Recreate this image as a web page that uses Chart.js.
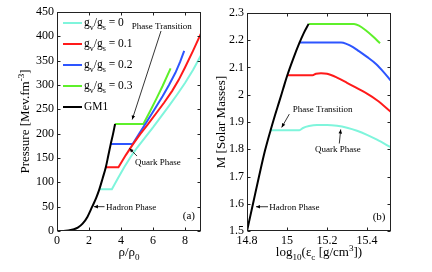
<!DOCTYPE html>
<html>
<head>
<meta charset="utf-8">
<script src="https://cdn.jsdelivr.net/npm/chart.js@4.4.1/dist/chart.umd.min.js"></script>
<style>
  html, body { margin: 0; padding: 0; background: #fff; }
  #wrap { position: relative; width: 432px; height: 272px; overflow: hidden; }
  canvas { position: absolute; top: 0; }
  #chartA { left: 0; }
  #chartB { left: 208px; }
</style>
</head>
<body>
<div id="wrap">
  <canvas id="chartA" width="216" height="272"></canvas>
  <canvas id="chartB" width="224" height="272"></canvas>
</div>
<script>
// panel (a): pressure vs rho/rho0
const rhoGM1  = [0, 0.4, 0.7, 1.0, 1.3, 1.6, 1.9, 2.2, 2.45, 2.65, 2.85, 3.05, 3.2, 3.36, 3.5, 3.63];
const presGM1 = [0, 0, 0.8, 3, 7, 15, 29, 50, 68, 86, 108, 131, 154, 179, 199, 220];
const rhoG0   = [2.65, 3.43, 3.8, 4.2, 4.6, 5.0, 5.5, 6.0, 6.5, 7.0, 7.5, 8.0, 8.5, 9.0];
const presG0  = [86, 86, 108, 131, 152, 171, 192, 213, 235, 257, 280, 304, 331, 361];
const rhoG1   = [3.05, 3.84, 4.3, 4.74, 5.2, 5.7, 6.2, 6.7, 7.2, 7.6, 8.0, 8.5, 9.0];
const presG1  = [131, 131, 156, 178, 199, 220, 242, 264, 288, 310, 336, 370, 406];
const rhoG2   = [3.36, 4.74, 5.15, 5.6, 6.1, 6.6, 7.0, 7.4, 7.7, 7.95];
const presG2  = [179, 179, 201, 224, 250, 277, 300, 325, 348, 370];
const rhoG3   = [3.63, 5.4, 5.8, 6.2, 6.6, 7.1];
const presG3  = [220, 220, 245, 271, 298, 334];
const rhoTicks  = [0, 2, 4, 6, 8];
const presTicks = [0, 50, 100, 150, 200, 250, 300, 350, 400, 450];

// panel (b): mass vs log10 of central density
const epsGM1  = [14.8, 14.83, 14.86, 14.89, 14.918, 14.94, 14.96, 14.98, 15.0, 15.03, 15.062, 15.085, 15.108];
const massGM1 = [1.5, 1.6, 1.7, 1.795, 1.87, 1.925, 1.972, 2.02, 2.068, 2.13, 2.19, 2.228, 2.26];
const epsG0   = [14.918, 15.062, 15.08, 15.11, 15.15, 15.2, 15.25, 15.3, 15.35, 15.4, 15.45, 15.52];
const massG0  = [1.870, 1.870, 1.878, 1.885, 1.889, 1.889, 1.886, 1.879, 1.868, 1.853, 1.835, 1.807];
const epsG1   = [15.0, 15.128, 15.145, 15.17, 15.2, 15.25, 15.3, 15.35, 15.4, 15.45, 15.52];
const massG1  = [2.072, 2.072, 2.077, 2.079, 2.077, 2.063, 2.044, 2.024, 2.004, 1.98, 1.937];
const epsG2   = [15.062, 15.27, 15.3, 15.33, 15.36, 15.4, 15.445, 15.48, 15.52];
const massG2  = [2.192, 2.192, 2.186, 2.175, 2.16, 2.139, 2.113, 2.086, 2.051];
const epsG3   = [15.108, 15.335, 15.36, 15.395, 15.43, 15.465];
const massG3  = [2.26, 2.26, 2.254, 2.236, 2.214, 2.189];
const epsTicks  = [14.8, 15, 15.2, 15.4];
const massTicks = [1.5, 1.6, 1.7, 1.8, 1.9, 2.0, 2.1, 2.2, 2.3];

const colGM1 = '#000000';
const colG0 = '#7ff5dc';
const colG1 = '#ff1a1a';
const colG2 = '#2d55ff';
const colG3 = '#5ef02a';

const serif = "'Liberation Serif', 'Times New Roman', serif";

const pts = (xs, ys) => xs.map((v, i) => ({ x: v, y: ys[i] }));

const line = (xs, ys, color, smooth) => ({
    data: pts(xs, ys),
    showLine: true,
    borderColor: color,
    backgroundColor: color,
    borderWidth: 2,
    pointRadius: 0,
    fill: false,
    cubicInterpolationMode: smooth ? 'monotone' : 'default',
    tension: 0
});

// text with sub/superscripts, y is the baseline
const drawRich = (ctx, parts, x, y, size, align) => {
    let w = 0;
    parts.forEach(p => {
        ctx.font = (p[1] ? size * 0.7 : size) + 'px ' + serif;
        w += ctx.measureText(p[0]).width;
    });
    let cx = align === 'center' ? x - w / 2 : x;
    ctx.textAlign = 'left';
    ctx.textBaseline = 'alphabetic';
    parts.forEach(p => {
        const sz = p[1] ? size * 0.7 : size;
        ctx.font = sz + 'px ' + serif;
        const dy = p[1] === 'sub' ? size * 0.32 : (p[1] === 'sup' ? -size * 0.42 : 0);
        ctx.fillText(p[0], cx, y + dy);
        cx += ctx.measureText(p[0]).width;
    });
};

const arrow = (ctx, x1, y1, x2, y2) => {
    ctx.beginPath();
    ctx.moveTo(x1, y1);
    ctx.lineTo(x2, y2);
    ctx.stroke();
    const a = Math.atan2(y2 - y1, x2 - x1);
    const L = 4, W = 1.8;
    ctx.beginPath();
    ctx.moveTo(x2, y2);
    ctx.lineTo(x2 - L * Math.cos(a) + W * Math.sin(a), y2 - L * Math.sin(a) - W * Math.cos(a));
    ctx.lineTo(x2 - L * Math.cos(a) - W * Math.sin(a), y2 - L * Math.sin(a) + W * Math.cos(a));
    ctx.closePath();
    ctx.fill();
};

// box, inward ticks, titles, notes and legend
const framePlugin = (cfg) => ({
    id: 'frame',
    afterDraw(chart) {
        const { ctx, chartArea: a, scales: { x, y } } = chart;
        ctx.save();
        ctx.strokeStyle = '#222';
        ctx.fillStyle = '#000';
        ctx.lineWidth = 1;
        const L = Math.round(a.left) + 0.5, R = Math.round(a.right) - 0.5;
        const T = Math.round(a.top) + 0.5, B = Math.round(a.bottom) - 0.5;
        ctx.strokeRect(L, T, R - L, B - T);
        ctx.beginPath();
        x.ticks.forEach(t => {
            const px = Math.round(x.getPixelForValue(t.value)) + 0.5;
            ctx.moveTo(px, B); ctx.lineTo(px, B - 3);
            ctx.moveTo(px, T); ctx.lineTo(px, T + 3);
        });
        y.ticks.forEach(t => {
            const py = Math.round(y.getPixelForValue(t.value)) + 0.5;
            ctx.moveTo(L, py); ctx.lineTo(L + 3, py);
            ctx.moveTo(R, py); ctx.lineTo(R - 3, py);
        });
        ctx.stroke();

        // axis titles
        drawRich(ctx, cfg.xTitle, (a.left + a.right) / 2, cfg.xTitleY, 13, 'center');
        ctx.save();
        ctx.translate(a.left - cfg.yTitleOff, (a.top + a.bottom) / 2);
        ctx.rotate(-Math.PI / 2);
        drawRich(ctx, cfg.yTitle, 0, 4, 13, 'center');
        ctx.restore();

        // notes with arrows, in data coordinates
        ctx.strokeStyle = '#000';
        ctx.lineWidth = 0.8;
        cfg.notes.forEach(n => {
            const tx = x.getPixelForValue(n.at[0]);
            const ty = y.getPixelForValue(n.at[1]);
            drawRich(ctx, [[n.text, '']], tx, ty + 3, n.size || 9, 'left');
            if (n.from) {
                arrow(ctx, x.getPixelForValue(n.from[0]), y.getPixelForValue(n.from[1]),
                    x.getPixelForValue(n.to[0]), y.getPixelForValue(n.to[1]));
            }
        });

        // legend
        if (cfg.legend) {
            cfg.legend.forEach((item, i) => {
                const ry = a.top + 11 + i * 21;
                ctx.strokeStyle = item.color;
                ctx.lineWidth = 2;
                ctx.beginPath();
                ctx.moveTo(a.left + 6, ry);
                ctx.lineTo(a.left + 25, ry);
                ctx.stroke();
                ctx.fillStyle = '#000';
                drawRich(ctx, item.label, a.left + 27, ry + 3, 11.5, 'left');
            });
        }
        ctx.restore();
    }
});

const axisOpts = (min, max, tickVals, fmt, fitProp, fitVal, pad) => ({
    type: 'linear',
    min: min,
    max: max,
    afterBuildTicks: (axis) => { axis.ticks = tickVals.map(v => ({ value: v })); },
    afterFit: (axis) => { axis[fitProp] = fitVal; },
    grid: { display: false, drawTicks: false },
    border: { display: false },
    ticks: {
        autoSkip: false,
        maxRotation: 0,
        padding: pad,
        color: '#000',
        font: { family: serif, size: 12 },
        callback: fmt
    }
});

const gLabel = (v) => [['g', ''], ['v', 'sub'], ['/g', ''], ['s', 'sub'], [' = ' + v, '']];

const baseOpts = (padding, xAxis, yAxis) => ({
    responsive: false,
    animation: false,
    devicePixelRatio: 1,
    layout: { padding: padding },
    plugins: { legend: { display: false }, tooltip: { enabled: false }, title: { display: false } },
    scales: { x: xAxis, y: yAxis }
});

new Chart(document.getElementById('chartA'), {
    type: 'scatter',
    data: {
        datasets: [
            line(rhoGM1, presGM1, colGM1, true),
            line(rhoG0, presG0, colG0, false),
            line(rhoG1, presG1, colG1, false),
            line(rhoG2, presG2, colG2, false),
            line(rhoG3, presG3, colG3, false)
        ]
    },
    options: baseOpts({ left: 0, right: 15, top: 12, bottom: 0 },
        axisOpts(0, 9, rhoTicks, v => String(v), 'height', 41, 3),
        axisOpts(0, 450, presTicks, v => String(v), 'width', 57, 3)),
    plugins: [framePlugin({
        xTitle: [['\u03C1/\u03C1', ''], ['0', 'sub']],
        xTitleY: 256,
        yTitle: [['Pressure [Mev.fm', ''], ['-3', 'sup'], [']', '']],
        yTitleOff: 32,
        notes: [
            { text: 'Phase Transition', at: [4.67, 421], from: [6.5, 411], to: [4.7, 229] },
            { text: 'Quark Phase', at: [4.875, 142], from: [5.0, 154], to: [4.53, 169.5] },
            { text: 'Hadron Phase', at: [3.06, 50], from: [2.97, 50], to: [2.31, 50] },
            { text: '(a)', at: [7.86, 31], size: 11 }
        ],
        legend: [
            { color: colG0, label: gLabel('0') },
            { color: colG1, label: gLabel('0.1') },
            { color: colG2, label: gLabel('0.2') },
            { color: colG3, label: gLabel('0.3') },
            { color: colGM1, label: [['GM1', '']] }
        ]
    })]
});

new Chart(document.getElementById('chartB'), {
    type: 'scatter',
    data: {
        datasets: [
            line(epsGM1, massGM1, colGM1, true),
            line(epsG0, massG0, colG0, true),
            line(epsG1, massG1, colG1, true),
            line(epsG2, massG2, colG2, true),
            line(epsG3, massG3, colG3, true)
        ]
    },
    options: baseOpts({ left: 0, right: 41, top: 13, bottom: 0 },
        axisOpts(14.8, 15.52, epsTicks, v => String(Math.round(v * 10) / 10), 'height', 41, 3),
        axisOpts(1.5, 2.3, massTicks, v => String(Math.round(v * 10) / 10), 'width', 39, 3)),
    plugins: [framePlugin({
        xTitle: [['log', ''], ['10', 'sub'], ['(\u03B5', ''], ['c', 'sub'], [' [g/cm', ''], ['3', 'sup'], ['])', '']],
        xTitleY: 256,
        yTitle: [['M [Solar Masses]', '']],
        yTitleOff: 26,
        notes: [
            { text: 'Phase Transition', at: [15.0285, 1.948], from: [15.0115, 1.929], to: [14.9735, 1.880] },
            { text: 'Quark Phase', at: [15.14, 1.800], from: [15.2615, 1.821], to: [15.2685, 1.8725] },
            { text: 'Hadron Phase', at: [14.9115, 1.589], from: [14.905, 1.589], to: [14.845, 1.589] },
            { text: '(b)', at: [15.4285, 1.552], size: 11 }
        ]
    })]
});
</script>
</body>
</html>
